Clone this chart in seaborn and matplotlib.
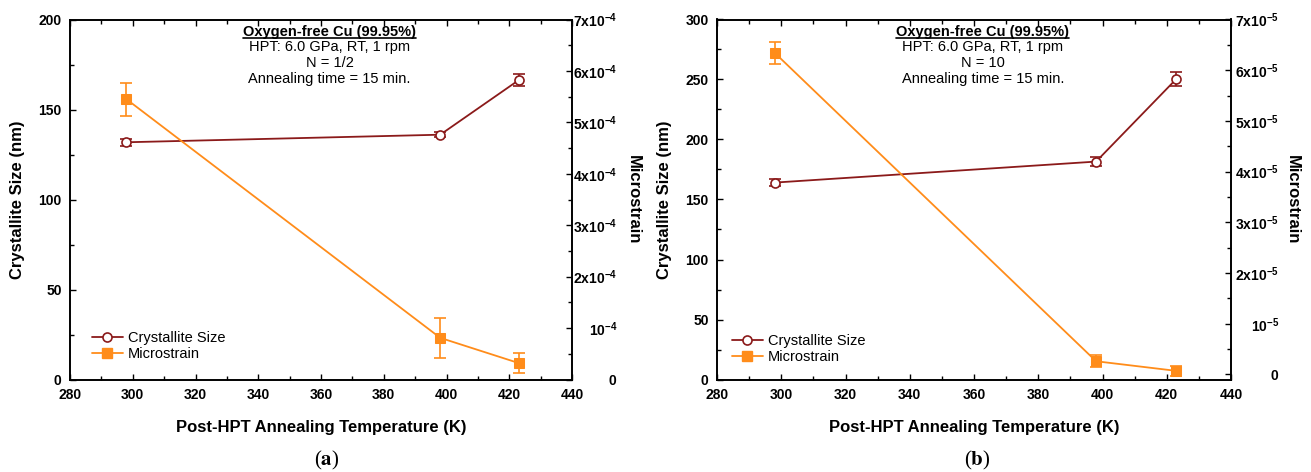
import matplotlib
matplotlib.use("Agg")
import matplotlib.pyplot as plt
import seaborn as sns
import pandas as pd
from matplotlib.ticker import MultipleLocator, FixedLocator, FuncFormatter
from matplotlib.lines import Line2D

# ---------------- data ----------------
temps = [298, 398, 423]

size_a = [131.8, 136.0, 166.3]
size_err_a = [2.0, 1.5, 3.2]
strain_a = [5.45e-4, 0.81e-4, 0.32e-4]
strain_err_a = [0.32e-4, 0.39e-4, 0.19e-4]

size_b = [164.1, 181.6, 250.5]
size_err_b = [3.2, 3.9, 5.8]
strain_b = [6.34e-5, 0.26e-5, 0.07e-5]
strain_err_b = [0.22e-5, 0.12e-5, 0.10e-5]

x_ticks = [280, 300, 320, 340, 360, 380, 400, 420, 440]
annot_a = ["Oxygen-free Cu (99.95%)", "HPT: 6.0 GPa, RT, 1 rpm", "N = 1/2", "Annealing time = 15 min."]
annot_b = ["Oxygen-free Cu (99.95%)", "HPT: 6.0 GPa, RT, 1 rpm", "N = 10", "Annealing time = 15 min."]
legend_labels = ["Crystallite Size", "Microstrain"]
x_label = "Post-HPT Annealing Temperature (K)"
y_label = "Crystallite Size (nm)"
y2_label = "Microstrain"

RED = "#8B1A1A"
ORANGE = "#FF8C1A"

sns.set_theme(style="ticks")
plt.rcParams["font.family"] = ["Liberation Sans", "DejaVu Sans"]
plt.rcParams["mathtext.fontset"] = "custom"
plt.rcParams["mathtext.rm"] = "Liberation Sans:bold"
plt.rcParams["mathtext.bf"] = "Liberation Sans:bold"
plt.rcParams["mathtext.it"] = "Liberation Sans:bold"
plt.rcParams["axes.linewidth"] = 1.2
for k in ("text.color", "axes.labelcolor", "xtick.color", "ytick.color", "axes.edgecolor"):
    plt.rcParams[k] = "black"

fig = plt.figure(figsize=(13.11, 4.72), dpi=100)
W, H = 1311, 472


def make_formatter(exp):
    def fmt(v, pos):
        n = int(round(v / 10.0 ** exp))
        if n == 0:
            return r"$\mathbf{0}$"
        if n == 1:
            return r"$\mathbf{10^{%d}}$" % exp
        return r"$\mathbf{%dx10^{%d}}$" % (n, exp)
    return fmt


def panel(rect, sizes, size_err, strains, strain_err, ymax, exp, y2lo, annot,
          leg_anchor, r_pad, caption, cap_x):
    ax = fig.add_axes(rect)
    ax2 = ax.twinx()
    df1 = pd.DataFrame({"T": temps, "v": sizes})
    df2 = pd.DataFrame({"T": temps, "v": strains})

    ax2.errorbar(temps, strains, yerr=strain_err, fmt="none", ecolor=ORANGE,
                 elinewidth=1.2, capsize=4.3, capthick=1.2, zorder=2)
    sns.lineplot(data=df2, x="T", y="v", ax=ax2, color=ORANGE, lw=1.3,
                 marker="s", markersize=7, markerfacecolor=ORANGE,
                 markeredgecolor=ORANGE, errorbar=None, zorder=3)
    ax.errorbar(temps, sizes, yerr=size_err, fmt="none", ecolor=RED,
                elinewidth=1.2, capsize=4.3, capthick=1.2, zorder=2)
    sns.lineplot(data=df1, x="T", y="v", ax=ax, color=RED, lw=1.3,
                 marker="o", markersize=6.5, markerfacecolor="white",
                 markeredgecolor=RED, markeredgewidth=1.2, errorbar=None, zorder=3)

    ax.set_xlim(280, 440)
    ax.set_ylim(0, ymax)
    ax2.set_ylim(y2lo, 7 * 10.0 ** exp)
    ax.xaxis.set_major_locator(FixedLocator(x_ticks))
    ax.xaxis.set_minor_locator(MultipleLocator(10))
    ax.yaxis.set_major_locator(MultipleLocator(50))
    ax.yaxis.set_minor_locator(MultipleLocator(25))
    ax2.yaxis.set_major_locator(FixedLocator([i * 10.0 ** exp for i in range(8)]))
    ax2.yaxis.set_minor_locator(FixedLocator([(i + 0.5) * 10.0 ** exp for i in range(7)]))
    ax2.yaxis.set_major_formatter(FuncFormatter(make_formatter(exp)))

    ax.tick_params(which="both", direction="in", top=True, right=False,
                   width=1.0, labelsize=10, colors="black")
    ax.tick_params(which="major", length=4.5)
    ax.tick_params(which="minor", length=3)
    ax.tick_params(axis="x", pad=6)
    ax.tick_params(axis="y", pad=6)
    ax2.tick_params(which="both", direction="in", right=True, left=False,
                    width=1.0, labelsize=10, pad=r_pad, colors="black")
    ax2.tick_params(which="major", length=4.5)
    ax2.tick_params(which="minor", length=3)
    for lab in ax.get_xticklabels() + ax.get_yticklabels():
        lab.set_fontweight("bold")
    for lab in ax2.get_yticklabels():
        lab.set_ha("right")

    for a in (ax, ax2):
        for s in a.spines.values():
            s.set_visible(True)
            s.set_color("black")
            s.set_linewidth(1.2)

    ax.set_xlabel(x_label, fontsize=12, fontweight="bold", va="center")
    ax.xaxis.set_label_coords(0.5, -0.132)
    ax.set_ylabel(y_label, fontsize=12, fontweight="bold", va="center", ha="center")
    ax2.set_ylabel(y2_label, fontsize=12, fontweight="bold", rotation=270,
                   va="center", ha="center")

    px_w = rect[2] * W
    ax.yaxis.set_label_coords(-52.0 / px_w, 0.5)
    ax2.yaxis.set_label_coords(1 + 61.0 / px_w, 0.5)

    # annotation block
    tx = 0.517
    y0 = 0.966
    dy = 15.6 / (rect[3] * H)
    title = ax.text(tx, y0, annot[0], transform=ax.transAxes, ha="center",
                    va="center", fontsize=10.5, fontweight="bold")
    for i, line in enumerate(annot[1:], start=1):
        ax.text(tx, y0 - i * dy, line, transform=ax.transAxes, ha="center",
                va="center", fontsize=10.5, fontweight="normal")

    handles = [
        Line2D([], [], color=RED, lw=1.3, marker="o", markersize=6.5,
               markerfacecolor="white", markeredgecolor=RED, markeredgewidth=1.2),
        Line2D([], [], color=ORANGE, lw=1.3, marker="s", markersize=7,
               markerfacecolor=ORANGE, markeredgecolor=ORANGE),
    ]
    ax2.legend(handles, legend_labels, loc="lower left", bbox_to_anchor=leg_anchor,
               bbox_transform=ax.transAxes, frameon=False, fontsize=10.5,
               borderpad=0, borderaxespad=0, handlelength=2.1,
               handletextpad=0.35, labelspacing=0.12)

    fig.text(cap_x / W, 1 - 460.0 / H, "(" + r"$\mathbf{" + caption + "}$" + ")",
             ha="center", va="center", fontsize=15, family="Liberation Serif",
             math_fontfamily="stix", fontweight="normal")
    return ax, title


bot = (H - 379.5) / H
hgt = 360.0 / H
ax_a, t_a = panel([70 / W, bot, 502 / W, hgt], size_a, size_err_a, strain_a, strain_err_a,
                  200, -4, 0.0, annot_a, (0.044, 0.052), 32.5, "a", 327)
ax_b, t_b = panel([717 / W, bot, 514 / W, hgt], size_b, size_err_b, strain_b, strain_err_b,
                  300, -5, -0.1e-5, annot_b, (0.029, 0.044), 34.5, "b", 977)

# underline titles
fig.canvas.draw()
r = fig.canvas.get_renderer()
for t in (t_a, t_b):
    bb = t.get_window_extent(renderer=r)
    yy = (bb.y0 + 0.5) / H
    fig.add_artist(Line2D([bb.x0 / W, bb.x1 / W], [yy, yy], transform=fig.transFigure,
                          color="black", lw=1.2))

fig.savefig("out.png", dpi=100)
